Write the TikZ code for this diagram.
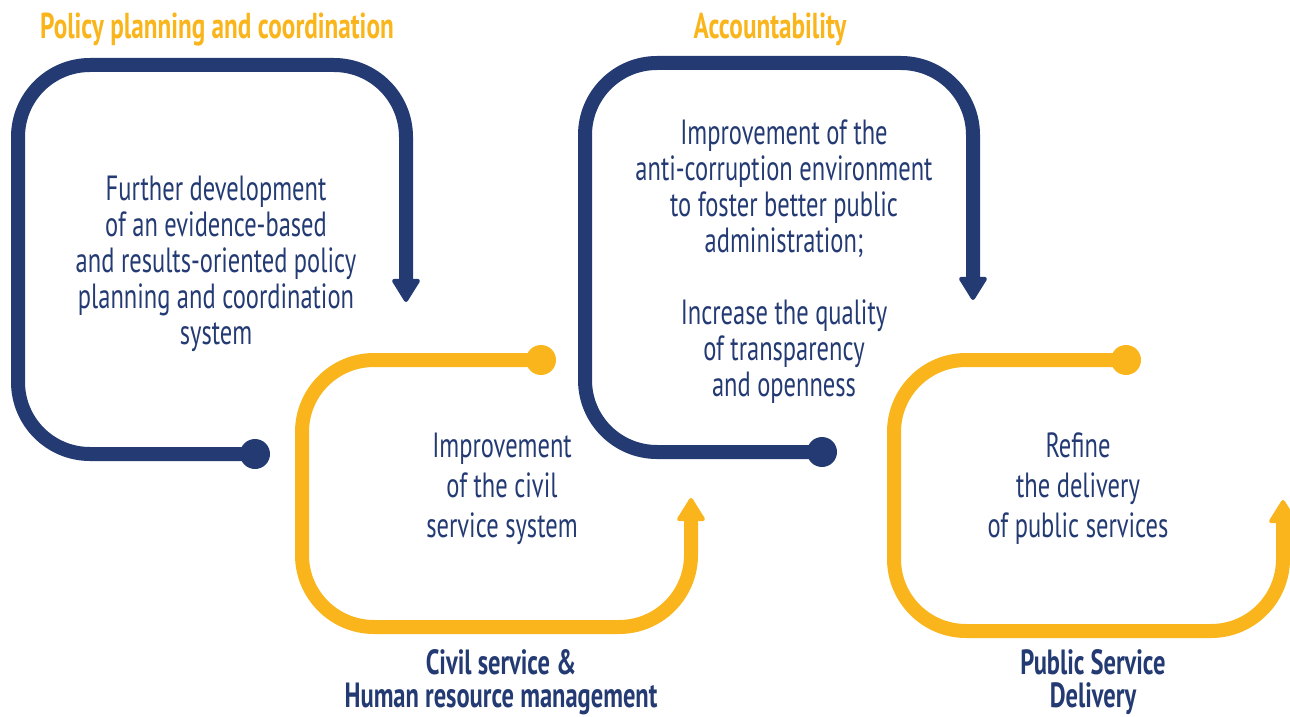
\documentclass[tikz,border=0pt]{standalone}
\usepackage{fontspec}
\setmainfont[FakeStretch=0.7]{PT Sans}
\usetikzlibrary{arrows.meta}
\definecolor{navy}{HTML}{233A73}
\definecolor{gold}{HTML}{F9B51B}
\begin{document}
\begin{tikzpicture}[x=1pt,y=-1pt,
  loopline/.style={line width=14pt, rounded corners=72pt,
    -{Triangle[width=30pt,length=25pt,round,line width=4pt]}},
  blueloop/.style={loopline, draw=navy},
  goldloop/.style={loopline, draw=gold},
  dot/.style={circle, inner sep=0pt, minimum size=30pt},
  bluedot/.style={dot, fill=navy},
  golddot/.style={dot, fill=gold},
  body/.style={text=navy, align=center, inner sep=0pt, font=\fontsize{35}{36}\selectfont},
  bodywide/.style={text=navy, align=center, inner sep=0pt, font=\fontsize{35}{40}\selectfont},
  heading/.style={text=gold, align=center, inner sep=0pt, font=\fontsize{36}{33}\selectfont\bfseries},
  footer/.style={text=navy, align=center, inner sep=0pt, font=\fontsize{35}{33}\selectfont\bfseries}
]
\clip (0,0) rectangle (1290,717);

% start dots of the four loops
\node[bluedot] (d1) at (255,454) {};
\node[golddot] (d2) at (541,360) {};
\node[bluedot] (d3) at (822,452) {};
\node[golddot] (d4) at (1126,360) {};

% arrow tips
\coordinate (t1) at (406,302);
\coordinate (t2) at (691,498);
\coordinate (t3) at (973,300);
\coordinate (t4) at (1283,500);

% loops
\draw[blueloop] (d1.center) -- (18,454) -- (18,65) -- (406,65) -- (t1);
\draw[goldloop] (d2.center) -- (302,360) -- (302,627) -- (691,627) -- (t2);
\draw[blueloop] (d3.center) -- (585,452) -- (585,63) -- (973,63) -- (t3);
\draw[goldloop] (d4.center) -- (894,360) -- (894,631) -- (1283,631) -- (t4);

% headings
\node[heading] (h1) at (217,30) {Policy planning and coordination};
\node[heading] (h2) at (770,29) {Accountability};
\node[footer] (f1) at (501,682) {Civil service \&\\Human resource management};
\node[footer] (f2) at (1093,682) {Public Service\\Delivery};

% texts inside the loops
\node[body] (b1) at (216,264) {Further development\\of an evidence-based\\and results-oriented policy\\planning and coordination\\system};
\node[bodywide] (b2) at (502,489) {Improvement\\of the civil\\service system};
\node[body] (b3) at (784,262) {Improvement of the\\anti-corruption environment\\to foster better public\\administration;\\[36pt]Increase the quality\\of transparency\\and openness};
\node[bodywide] (b4) at (1078,489) {Refine\\the delivery\\of public services};
\end{tikzpicture}
\end{document}
